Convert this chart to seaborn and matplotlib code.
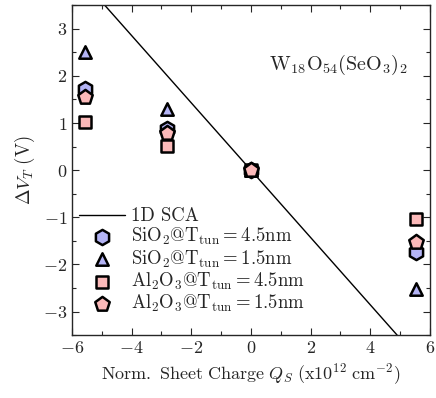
import numpy as np
import pandas as pd
import matplotlib
matplotlib.use("Agg")
import matplotlib.pyplot as plt
from matplotlib.ticker import MultipleLocator
import seaborn as sns

# sheet charge positions (x1e12 cm^-2)
charge = [-5.55, -2.8, 0.0, 5.55]

# threshold voltage shifts (V)
sio2_45 = [1.72, 0.87, 0.0, -1.74]
sio2_15 = [2.51, 1.30, 0.0, -2.53]
al2o3_45 = [1.02, 0.51, 0.0, -1.04]
al2o3_15 = [1.55, 0.79, 0.0, -1.53]

# 1D SCA slope (V per 1e12 cm^-2)
sca_slope = -0.714

labels = [r"$\mathrm{SiO_2@T_{tun}=4.5nm}$",
          r"$\mathrm{SiO_2@T_{tun}=1.5nm}$",
          r"$\mathrm{Al_2O_3@T_{tun}=4.5nm}$",
          r"$\mathrm{Al_2O_3@T_{tun}=1.5nm}$"]

sns.set_style("ticks")
plt.rcParams["font.family"] = "serif"
plt.rcParams["font.serif"] = ["cmr10", "DejaVu Serif"]
plt.rcParams["mathtext.fontset"] = "cm"
plt.rcParams["axes.formatter.use_mathtext"] = True
plt.rcParams["axes.unicode_minus"] = True

blue = "#b4b4f5"
pink = "#fbb9b9"

fig = plt.figure(figsize=(4.36, 3.98), dpi=100)
ax = fig.add_axes([0.165, 0.158, 0.821, 0.829])

ax.axline((0, 0), slope=sca_slope, color="black", lw=1.0, label="1D SCA")

series = [(sio2_45, "h", blue, 120), (sio2_15, "^", blue, 80),
          (al2o3_45, "s", pink, 75), (al2o3_15, "p", pink, 120)]
for (vals, mk, col, sz), lab in zip(series, labels):
    sns.scatterplot(x=charge, y=vals, marker=mk, color=col, s=sz,
                    edgecolor="black", linewidth=1.8, label=lab, ax=ax,
                    zorder=3)

ax.set_xlim(-6, 6)
ax.set_ylim(-3.5, 3.5)
ax.xaxis.set_major_locator(MultipleLocator(2))
ax.xaxis.set_minor_locator(MultipleLocator(1))
ax.yaxis.set_major_locator(MultipleLocator(1))
ax.yaxis.set_minor_locator(MultipleLocator(0.5))
ax.tick_params(which="both", direction="in", top=True, right=True,
               labelsize=13, width=0.8)
ax.tick_params(which="major", length=5)
ax.tick_params(which="minor", length=3)
for sp in ax.spines.values():
    sp.set_linewidth(1.0)

ax.set_xlabel(r"$\mathrm{Norm.\ Sheet\ Charge}\ Q_S\ \mathrm{(x10^{12}\ cm^{-2})}$",
              fontsize=13)
ax.set_ylabel(r"$\Delta V_T\ \mathrm{(V)}$", fontsize=13.5)

ax.text(0.745, 0.82, r"$\mathrm{W_{18}O_{54}(SeO_3)_2}$", transform=ax.transAxes,
        ha="center", va="center", fontsize=14.5)

ax.legend(loc="lower left", bbox_to_anchor=(-0.013, 0.03), frameon=False,
          fontsize=13.5, handlelength=2.5, handletextpad=0.3,
          labelspacing=0.05, borderaxespad=0.2)

fig.savefig("out.png", dpi=100)
